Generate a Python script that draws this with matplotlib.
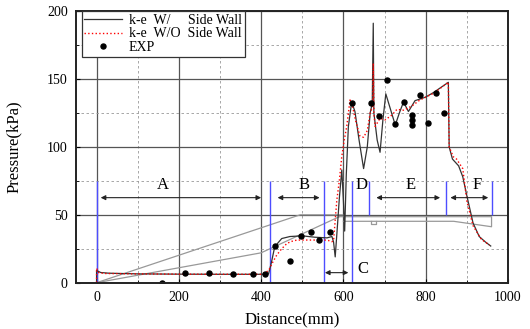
import numpy as np
import matplotlib
matplotlib.use("Agg")
import matplotlib.pyplot as plt
from matplotlib.ticker import MultipleLocator

plt.rcParams['font.family'] = ['Liberation Serif', 'DejaVu Serif']

# k-e with side wall
ke_w_x = [0, 0, 10, 30, 100, 200, 300, 400, 418, 425, 432, 440, 450, 470, 500, 530, 560, 572, 576, 580,
          585, 590, 596, 600, 603, 607, 612, 620, 628, 638, 649, 658, 665, 670, 672.5, 674, 682, 689, 696, 703,
          712, 726, 736, 746, 758, 774, 799, 819, 855, 857, 865, 880, 890, 900, 915, 930, 945, 958]
ke_w_y = [0, 9, 7.5, 7, 6.5, 6.3, 6.2, 6.2, 6.5, 15, 25, 29, 32.5, 34, 34.5, 33.5, 33, 34, 30, 19,
          40, 62, 83, 60, 38, 80, 115, 133, 126, 105, 84, 100, 125, 132, 191, 125, 105, 96, 120, 139,
          130, 116, 125, 133, 126, 134, 136.5, 140, 147.5, 100, 91, 86, 78, 64, 44, 34, 30, 27]

# k-e without side wall
ke_wo_x = [0, 0, 5, 20, 100, 200, 300, 400, 418, 428, 438, 450, 463, 475, 487, 520, 560, 572, 576, 584,
           590, 596, 602, 608, 616, 622, 629, 640, 649, 658, 665, 671, 672.5, 674, 677, 689, 701, 718, 730, 746,
           766, 786, 819, 855, 857, 867, 875, 890, 900, 915, 935, 955]
ke_wo_y = [0, 10.6, 7.4, 6.8, 6.5, 6.3, 6.2, 6.2, 8.8, 15, 20.4, 25, 29, 30.5, 31.4, 31.4, 31.4, 30.2, 31, 61,
           75, 93, 105, 115, 134.5, 130, 120, 108, 107, 112, 125, 129.6, 161.5, 125, 115, 121, 119.8, 123.4, 127.6, 127,
           130, 134.5, 139.4, 147.5, 100, 92.7, 91, 84, 60, 42, 32, 27.7]

# experiment
exp_x = [158, 215, 273, 332, 380, 410, 433, 470, 497, 522, 540, 567, 620, 668, 686, 706, 726, 747,
         766, 766, 766, 786, 805, 825, 845]
exp_y = [0, 7.4, 7.4, 6.6, 6.6, 6.3, 27, 16, 34.4, 37.5, 31.4, 37.5, 132, 132, 122.6, 149, 116.5, 133,
         123.4, 119.8, 116, 138.5, 117.5, 140, 125]

# grey geometry outline
geo_low_x = [0, 400, 590]
geo_low_y = [0, 22, 48.6]
geo_up_x = [0, 495, 600]
geo_up_y = [0, 50, 50]
geo_box_x = [590, 960, 960, 868, 600]
geo_box_y = [48.6, 48.6, 41.2, 45.2, 45.2]
geo_notch_x = [668, 668, 678, 678]
geo_notch_y = [45.2, 43.5, 43.5, 45.2]

# region separators and labels
sep_x = [0, 422, 552, 620, 663, 850, 960]
sep_lo = [0, 0, 0, 0, 50, 50, 50]
sep_hi = [75, 75, 75, 75, 75, 75, 75]
arrows = [(10, 400, 62.6), (440, 542, 62.6), (555, 612, 7.4), (680, 835, 62.6), (860, 952, 62.6)]
region_names = ['A', 'B', 'C', 'D', 'E', 'F']
region_x = [160, 505, 648, 645, 762, 924]
region_y = [72, 72, 10, 72, 72, 72]

fig = plt.figure(figsize=(5.3, 3.29), dpi=100)
ax = fig.add_axes([0.1434, 0.1407, 0.8151, 0.8259])

ax.set_xlim(-50, 1000)
ax.set_ylim(0, 200)
ax.xaxis.set_major_locator(MultipleLocator(200))
ax.xaxis.set_minor_locator(MultipleLocator(100))
ax.yaxis.set_major_locator(MultipleLocator(50))
ax.yaxis.set_minor_locator(MultipleLocator(25))
ax.grid(which='major', color='#555555', lw=0.9, ls='-')
ax.grid(which='minor', color='#999999', lw=0.6, ls=(0, (3, 3)))
ax.set_axisbelow(True)
ax.tick_params(which='both', direction='in', labelsize=10, top=False, right=False)
ax.tick_params(which='major', length=3, pad=6)
ax.tick_params(which='minor', length=2)
for s in ax.spines.values():
    s.set_linewidth(1.4)
    s.set_color('#222222')

ax.plot(geo_low_x, geo_low_y, color='#999999', lw=0.9)
ax.plot(geo_up_x, geo_up_y, color='#999999', lw=0.9)
ax.plot(geo_box_x, geo_box_y, color='#999999', lw=0.9)
ax.plot(geo_notch_x, geo_notch_y, color='#999999', lw=0.9)

ax.vlines(sep_x, sep_lo, sep_hi, colors='#4d4dff', lw=1.0)
for x0, x1, y in arrows:
    ax.annotate('', xy=(x1, y), xytext=(x0, y),
                arrowprops=dict(arrowstyle='<|-|>', color='#222222', lw=0.8,
                                mutation_scale=7, shrinkA=0, shrinkB=0))
for name, x, y in zip(region_names, region_x, region_y):
    ax.text(x, y, name, fontsize=12, ha='center', va='center')

ax.plot(ke_w_x, ke_w_y, color='#333333', lw=0.9, label='k-e  W/     Side Wall')
ax.plot(ke_wo_x, ke_wo_y, color='red', lw=1.0, ls=':', label='k-e  W/O  Side Wall')
ax.plot(exp_x, exp_y, 'o', color='black', ms=3.6, ls='none', label='EXP')

leg = ax.legend(loc='upper left', bbox_to_anchor=(0.013, 1.0), borderaxespad=0,
                fontsize=10, handlelength=2.7, fancybox=False, framealpha=1,
                edgecolor='#333333', borderpad=0.2, labelspacing=0.05, handletextpad=0.5)
leg.get_frame().set_linewidth(0.9)

ax.set_xlabel('Distance(mm)', fontsize=12, labelpad=6)
ax.set_ylabel('Pressure(kPa)', fontsize=12, labelpad=18)

fig.savefig('out.png', dpi=100)
